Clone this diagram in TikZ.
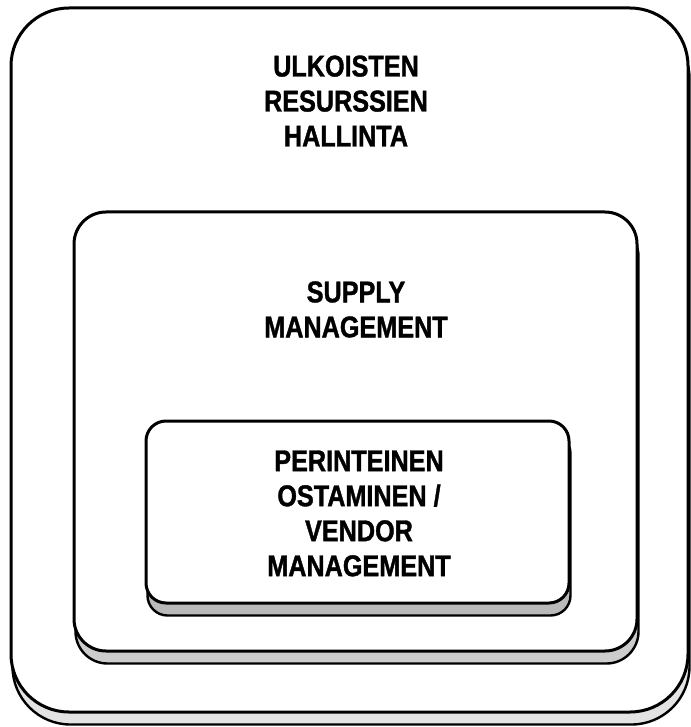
\documentclass[tikz,border=0pt]{standalone}
\usepackage{fontspec}
\setmainfont{Liberation Sans}[FakeStretch=0.84, BoldFeatures={FakeBold=1.2}]

\tikzset{
  frame/.style={draw=black, line width=1.5pt, fill=white},
  ledge/.style={draw=black, line width=1.2pt},
  title/.style={font=\fontsize{15}{17.5}\selectfont\bfseries, align=center, inner sep=0pt}
}

\begin{document}
\begin{tikzpicture}[x=0.5pt, y=-0.5pt]
    \useasboundingbox (0,0) rectangle (690,727);

    % three nested plates, each with a grey ledge under it
    \foreach \l/\t/\r/\b/\rad/\tone in {11/8/688/712/29/22, 74/212/637/651/16/40, 146/421/569/603/10/55}
    {
        \draw[ledge, fill=gray!\tone, rounded corners=\rad pt] (\l+1.5,\t+12.5) rectangle (\r+1.5,\b+12.5);
        \draw[frame, rounded corners=\rad pt] (\l,\t) rectangle (\r,\b);
    }

    \node[title] (ulkoiset) at (346,101) {ULKOISTEN\\RESURSSIEN\\HALLINTA};
    \node[title] (supply) at (356,309.5) {SUPPLY\\MANAGEMENT};
    \node[title] (vendor) at (359,513.5) {PERINTEINEN\\OSTAMINEN /\\VENDOR\\MANAGEMENT};
\end{tikzpicture}
\end{document}
